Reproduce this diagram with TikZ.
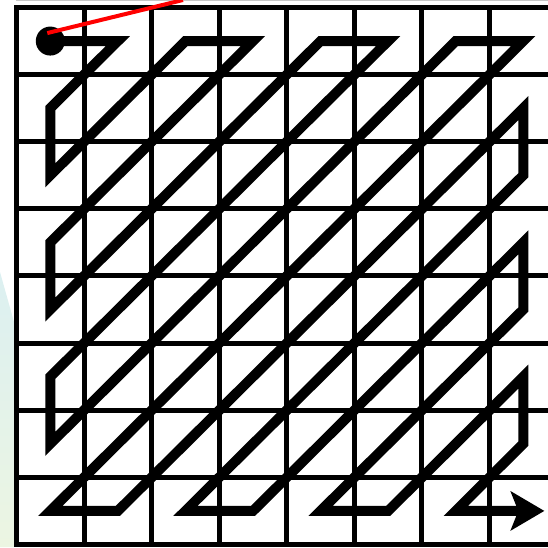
\documentclass[tikz,border=0pt]{standalone}
\usepackage{tikz}
\usetikzlibrary{arrows.meta,calc}

\definecolor{tintcyan}{RGB}{220,240,241}
\definecolor{tintgreen}{RGB}{236,245,226}

\begin{document}
\begin{tikzpicture}[
    x=1pt, y=-1pt,
    gridline/.style={draw=black, line width=5pt, line cap=rect},
    scanpath/.style={draw=black, line width=10pt, line join=miter},
    scanarr/.style={-{Stealth[length=34pt, width=40pt, inset=8pt, line width=0pt]}},
    startdot/.style={circle, fill=black, minimum size=29pt, inner sep=0pt},
    pointer/.style={draw=red, line width=4pt},
]
\useasboundingbox (0,0) rectangle (548,547);
\clip (0,0) rectangle (548,547);

% background tint at the left margin
\shade[top color=tintcyan, bottom color=tintgreen] (0,272) -- (14,322) -- (14,547) -- (0,547) -- cycle;
\draw[gray!45, line width=1pt] (16,0.5) -- (548,0.5);

% 8x8 grid
\foreach \i in {0,...,8} {
  \draw[gridline] (16.5+67.57*\i, 7.5) -- (16.5+67.57*\i, 544.5);
  \draw[gridline] (16.5, 7.5+67.12*\i) -- (560, 7.5+67.12*\i);
}

% cell centres
\foreach \r in {0,...,7}
  \foreach \c in {0,...,7}
    \coordinate (c\r\c) at (50.29+67.57*\c, 41.06+67.12*\r);
\coordinate (scanend) at ($(c77)+(21,0)$);

% zigzag scan
\draw[scanpath, scanarr] (c00) -- (c01) -- (c10) -- (c20) -- (c02) -- (c03) -- (c30) -- (c40)
  -- (c04) -- (c05) -- (c50) -- (c60) -- (c06) -- (c07) -- (c70) -- (c71) -- (c17) -- (c27)
  -- (c72) -- (c73) -- (c37) -- (c47) -- (c74) -- (c75) -- (c57) -- (c67) -- (c76) -- (scanend);

\node[startdot] (dot) at (c00) {};

\coordinate (aim) at (183,0);
\draw[pointer] ([shift={(-3pt,8pt)}]dot.center) -- (aim);

\end{tikzpicture}
\end{document}
